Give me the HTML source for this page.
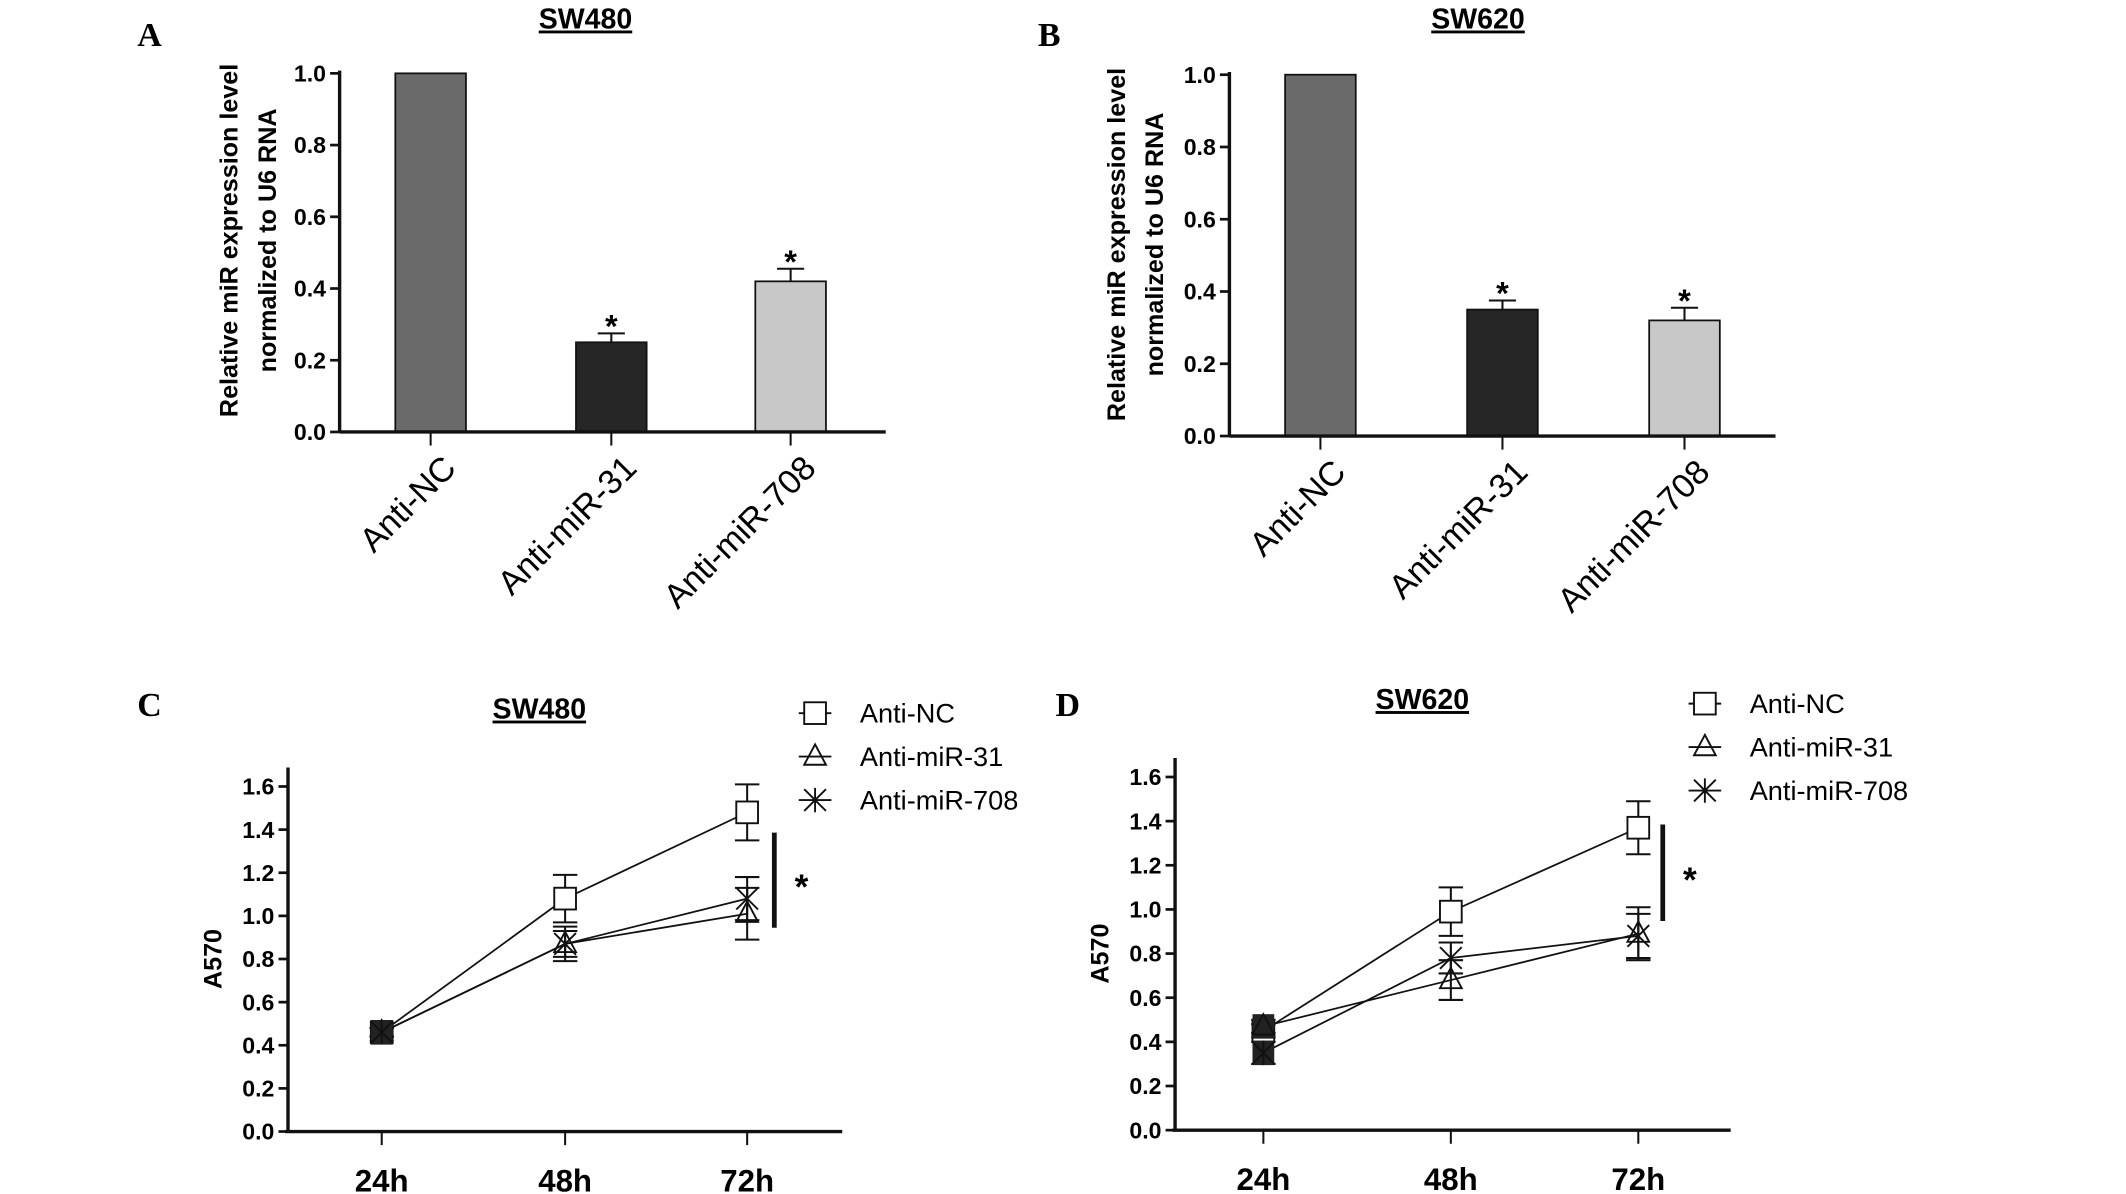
<!DOCTYPE html>
<html><head><meta charset="utf-8">
<style>
html,body{margin:0;padding:0;background:#fff;}
svg{display:block;}
text{font-family:"Liberation Sans",Arial,sans-serif;}
.tick{font-size:17px;font-weight:bold;}
.ttl{font-size:21px;font-weight:bold;text-decoration:underline;}
.let{font-family:"Liberation Serif",serif;font-size:25px;font-weight:bold;}
.ylab{font-size:18.5px;font-weight:bold;}
.xcat{font-size:25px;}
.leg{font-size:20px;}
</style></head>
<body>
<svg id="fig" width="2126" height="1194" viewBox="0 0 1565 879" preserveAspectRatio="none" xmlns="http://www.w3.org/2000/svg"></svg>
<script>
// ---- data ----
const barCategories = ["Anti-NC","Anti-miR-31","Anti-miR-708"];
const barTicks = [0,0.2,0.4,0.6,0.8,1.0];
const barA = [1.0,0.25,0.42];
const barAErr = [0,0.025,0.035];
const barB = [1.0,0.35,0.32];
const barBErr = [0,0.025,0.035];
const barStars = [false,true,true];
const timeLabels = ["24h","48h","72h"];
const lineTicks = [0,0.2,0.4,0.6,0.8,1.0,1.2,1.4,1.6];
const seriesNames = ["Anti-NC","Anti-miR-31","Anti-miR-708"];
const cNC = [0.46,1.08,1.48];   const cNCErr = [0.02,0.11,0.13];
const c31 = [0.46,0.87,1.01];   const c31Err = [0.02,0.08,0.12];
const c708 = [0.46,0.87,1.08];  const c708Err = [0.02,0.06,0.10];
const dNC = [0.45,0.99,1.37];   const dNCErr = [0.03,0.11,0.12];
const d31 = [0.47,0.68,0.89];   const d31Err = [0.03,0.09,0.12];
const d708 = [0.35,0.78,0.88];  const d708Err = [0.05,0.07,0.10];

const NS="http://www.w3.org/2000/svg";
const svg=document.getElementById('fig');
function mk(tag,attrs,parent,txt){const e=document.createElementNS(NS,tag);for(const k in attrs)e.setAttribute(k,attrs[k]);if(txt!==undefined)e.textContent=txt;(parent||svg).appendChild(e);return e;}

function barPanel(o){
  const g=mk('g',{});
  
  
  const y=v=>o.y0-(o.y0-o.y1)*v;
  const fills=["#6a6a6a","#262626","#c8c8c8"];
  const t=mk('text',{x:o.title[0],y:o.title[1],'text-anchor':'middle',class:'ttl'},g,o.titleTxt);
  
  const L=mk('text',{x:o.letter[0],y:o.letter[1],class:'let'},g,o.id);
  
  o.vals.forEach((v,i)=>{
    const cx=o.cx[i],w=52;
    const r=mk('rect',{x:cx-w/2,y:y(v),width:w,height:o.y0-y(v),fill:fills[i],stroke:'#111','stroke-width':1.3},g);
    
    
    if(o.err[i]>0){
      mk('line',{x1:cx,x2:cx,y1:y(v),y2:y(v+o.err[i]),stroke:'#111','stroke-width':1.5},g);
      mk('line',{x1:cx-10,x2:cx+10,y1:y(v+o.err[i]),y2:y(v+o.err[i]),stroke:'#111','stroke-width':1.5},g);
    }
    if(barStars[i]){const s=mk('text',{x:cx,y:y(v+o.err[i])+3,'text-anchor':'middle',style:'font-size:24px;font-weight:bold'},g,'*');
      }
    mk('line',{x1:cx,x2:cx,y1:o.y0,y2:o.y0+10,stroke:'#111','stroke-width':1.5},g);
    const lb=mk('text',{x:0,y:0,'text-anchor':'end',class:'xcat',transform:`translate(${cx+20},${o.y0+28}) rotate(-45)`},g,barCategories[i]);
    
  });
  mk('line',{x1:o.ax,x2:o.ax,y1:y(1.0)-2,y2:o.y0,stroke:'#111','stroke-width':2.5},g);
  mk('line',{x1:o.ax,x2:o.right,y1:o.y0,y2:o.y0,stroke:'#111','stroke-width':2.5},g);
  barTicks.forEach(v=>{
    mk('line',{x1:o.ax-7,x2:o.ax,y1:y(v),y2:y(v),stroke:'#111','stroke-width':2},g);
    const tl=mk('text',{x:o.ax-10,y:y(v)+6,'text-anchor':'end',class:'tick'},g,v.toFixed(1));
    
  });
  const yl=mk('text',{x:0,y:0,'text-anchor':'middle',class:'ylab',transform:`translate(${o.ylx},${o.yly}) rotate(-90)`},g);
  
  mk('tspan',{x:0,dy:0},yl,'Relative miR  expression level');
  mk('tspan',{x:0,dy:28},yl,'normalized to U6 RNA');
}

function marker(g,kind,x,yv){
  if(kind===0) mk('rect',{x:x-8,y:yv-8,width:16,height:16,fill:'#fff',stroke:'#111','stroke-width':1.4},g);
  else if(kind===1) mk('path',{d:`M${x} ${yv-9}L${x+8} ${yv+6}L${x-8} ${yv+6}Z`,fill:'none',stroke:'#111','stroke-width':1.4},g);
  else mk('path',{d:`M${x-8} ${yv-8}L${x+8} ${yv+8}M${x+8} ${yv-8}L${x-8} ${yv+8}M${x} ${yv-9}L${x} ${yv+9}`,stroke:'#111','stroke-width':1.4},g);
}

function linePanel(o){
  const g=mk('g',{});
  
  
  const y=v=>o.y0-(o.y0-o.y16)*v/1.6;
  const t=mk('text',{x:o.title[0],y:o.title[1],'text-anchor':'middle',class:'ttl'},g,o.titleTxt);
  
  const L=mk('text',{x:o.letter[0],y:o.letter[1],class:'let'},g,o.id);
  
  mk('line',{x1:o.ax,x2:o.ax,y1:o.y16-14,y2:o.y0,stroke:'#111','stroke-width':2.5},g);
  mk('line',{x1:o.ax-2,x2:o.right,y1:o.y0,y2:o.y0,stroke:'#111','stroke-width':2.5},g);
  lineTicks.forEach(v=>{
    mk('line',{x1:o.ax-7,x2:o.ax,y1:y(v),y2:y(v),stroke:'#111','stroke-width':2},g);
    const tl=mk('text',{x:o.ax-10,y:y(v)+6,'text-anchor':'end',class:'tick'},g,v.toFixed(1));
    
  });
  timeLabels.forEach((s,i)=>{
    mk('line',{x1:o.xs[i],x2:o.xs[i],y1:o.y0,y2:o.y0+10,stroke:'#111','stroke-width':1.5},g);
    const tl=mk('text',{x:o.xs[i],y:o.y0+44,'text-anchor':'middle',style:'font-size:23px;font-weight:bold'},g,s);
    
  });
  const yl=mk('text',{x:0,y:0,'text-anchor':'middle',class:'ylab',transform:`translate(${o.ax-49},${(o.y0+o.y16)/2}) rotate(-90)`},g,'A570');
  
  o.series.forEach((s,k)=>{
    const sg=mk('g',{},g);
    
    
    mk('polyline',{points:s.v.map((v,i)=>o.xs[i]+','+y(v)).join(' '),fill:'none',stroke:'#111','stroke-width':1.3},sg);
    s.v.forEach((v,i)=>{
      const x=o.xs[i];
      mk('line',{x1:x,x2:x,y1:y(v-s.e[i]),y2:y(v+s.e[i]),stroke:'#111','stroke-width':1.5},sg);
      mk('line',{x1:x-9,x2:x+9,y1:y(v-s.e[i]),y2:y(v-s.e[i]),stroke:'#111','stroke-width':1.5},sg);
      mk('line',{x1:x-9,x2:x+9,y1:y(v+s.e[i]),y2:y(v+s.e[i]),stroke:'#111','stroke-width':1.5},sg);
      if(i===0) mk('rect',{x:x-8,y:y(v)-9,width:16,height:18,fill:'#222'},sg);
      marker(sg,k,x,y(v));
    });
    const ly=o.legY+k*32;
    const le=mk('g',{},g);
    
    
    mk('line',{x1:o.legX-12,x2:o.legX+12,y1:ly,y2:ly,stroke:'#111','stroke-width':1.4},le);
    marker(le,k,o.legX,ly);
    mk('text',{x:o.legX+33,y:ly+7,class:'leg'},le,seriesNames[k]);
  });
  mk('line',{x1:o.sigX,x2:o.sigX,y1:o.sigY[0],y2:o.sigY[1],stroke:'#111','stroke-width':3.5},g);
  const st=mk('text',{x:o.sigX+20,y:(o.sigY[0]+o.sigY[1])/2+14,'text-anchor':'middle',style:'font-size:26px;font-weight:bold'},g,'*');
  
}

barPanel({id:'A',titleTxt:'SW480',title:[431,21],letter:[101,34],vals:barA,err:barAErr,
  ax:250,y0:318,y1:54,right:652,cx:[317,450,582],ylx:175,yly:177});
barPanel({id:'B',titleTxt:'SW620',title:[1088,21],letter:[764,34],vals:barB,err:barBErr,
  ax:905,y0:321,y1:55,right:1307,cx:[972,1106,1240],ylx:828,yly:180});
linePanel({id:'C',titleTxt:'SW480',title:[397,529],letter:[101,527],ax:212,y0:833,y16:579,right:620,xs:[281,416,550],
  series:[{v:cNC,e:cNCErr},{v:c31,e:c31Err},{v:c708,e:c708Err}],legX:600,legY:525,sigX:570,sigY:[613,683]});
linePanel({id:'D',titleTxt:'SW620',title:[1047,522],letter:[777,527],ax:865,y0:832,y16:572,right:1274,xs:[930,1068,1206],
  series:[{v:dNC,e:dNCErr},{v:d31,e:d31Err},{v:d708,e:d708Err}],legX:1255,legY:518,sigX:1224,sigY:[607,678]});
</script>
</body></html>
